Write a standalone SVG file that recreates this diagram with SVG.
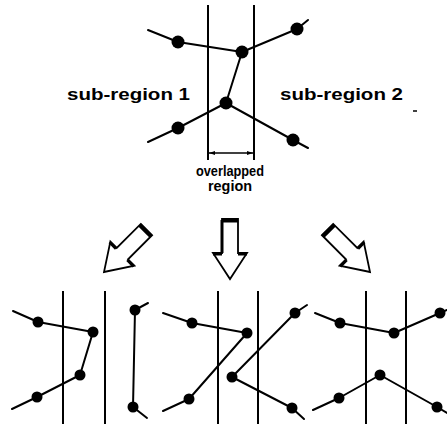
<svg xmlns="http://www.w3.org/2000/svg" width="447" height="426" viewBox="0 0 447 426">
<style>
.ln{stroke:#000;stroke-width:2;fill:none;stroke-linecap:round;stroke-linejoin:round}
.vl{stroke:#000;stroke-width:2;fill:none}
.nd{fill:#000}
.t{font-family:"Liberation Sans",Arial,sans-serif;font-weight:bold;fill:#000}
.ar{fill:#fff;stroke:#000;stroke-width:1.8;stroke-linejoin:miter}
.sh{stroke:#000;fill:none}
</style>
<defs>
<marker id="dim" viewBox="0 0 10 10" refX="10" refY="5" markerWidth="6" markerHeight="6" orient="auto-start-reverse" markerUnits="userSpaceOnUse">
<path d="M0,1.5 L10,5 L0,8.5 Z" fill="#000"/>
</marker>
<g id="bigarrow">
<path class="ar" d="M-8,-60 L8,-60 L8,-26 L17,-26 L0,0 L-17,-26 L-8,-26 Z"/>
<path class="sh" stroke-width="4" d="M-8,-58.5 L8,-58.5"/>
<path class="sh" stroke-width="3" d="M-17,-25 L-8,-25 M8,-25 L17,-25"/>
</g>
</defs>

<g id="top-lines">
<line class="vl" x1="208" y1="5" x2="208" y2="160"/>
<line class="vl" x1="254" y1="5" x2="254" y2="160"/>
</g>

<g id="connectors">
<polyline class="ln" points="148,30 178,42 242,52 297,29 308,20"/>
<polyline class="ln" points="242,52 226,103"/>
<polyline class="ln" points="148,142 178,128 226,103 293,140 308,148"/>
<line x1="209" y1="153" x2="253" y2="153" stroke="#000" stroke-width="1.5" marker-start="url(#dim)" marker-end="url(#dim)"/>
<polyline class="ln" points="13,311 38,322 93,332 80,375 37,397 12,409"/>
<polyline class="ln" points="148,303 135,310 133,407 147,418"/>
<polyline class="ln" points="163,313 192,323 247,333 189,399 163,411"/>
<polyline class="ln" points="307,305 295,313 232,377 292,408 304,419"/>
<polyline class="ln" points="315,313 340,323 394,333 440,313 447,310"/>
<polyline class="ln" points="313,410 339,398 380,375 437,407 447,413"/>
</g>

<g id="top-nodes">
<circle class="nd" cx="178" cy="42" r="6.5"/>
<circle class="nd" cx="242" cy="52" r="6.5"/>
<circle class="nd" cx="297" cy="29" r="6.5"/>
<circle class="nd" cx="226" cy="103" r="6.5"/>
<circle class="nd" cx="178" cy="128" r="6.5"/>
<circle class="nd" cx="293" cy="140" r="6.5"/>
</g>

<g id="labels">
<text class="t" x="67" y="100" font-size="17" textLength="123" lengthAdjust="spacingAndGlyphs">sub-region 1</text>
<text class="t" x="280" y="100" font-size="17" textLength="123" lengthAdjust="spacingAndGlyphs">sub-region 2</text>
<line x1="413" y1="111" x2="417" y2="111" stroke="#000" stroke-width="1.5"/>
<text class="t" x="196" y="176" font-size="14" textLength="68" lengthAdjust="spacingAndGlyphs">overlapped</text>
<text class="t" x="208" y="191" font-size="14" textLength="44" lengthAdjust="spacingAndGlyphs">region</text>
</g>

<g id="arrows">
<use href="#bigarrow" transform="translate(104,272) rotate(45)"/>
<use href="#bigarrow" transform="translate(230,279)"/>
<use href="#bigarrow" transform="translate(370,272) rotate(-45)"/>
<path class="sh" stroke-width="3" d="M222,253 L222,220"/>
</g>

<g id="panel1">
<line class="vl" x1="63" y1="291" x2="63" y2="424"/>
<line class="vl" x1="105" y1="291" x2="105" y2="424"/>
<circle class="nd" cx="38" cy="322" r="5.5"/>
<circle class="nd" cx="93" cy="332" r="5.5"/>
<circle class="nd" cx="80" cy="375" r="5.5"/>
<circle class="nd" cx="37" cy="397" r="5.5"/>
<circle class="nd" cx="135" cy="310" r="5.5"/>
<circle class="nd" cx="133" cy="407" r="5.5"/>
</g>

<g id="panel2">
<line class="vl" x1="218" y1="291" x2="218" y2="424"/>
<line class="vl" x1="258" y1="291" x2="258" y2="424"/>
<circle class="nd" cx="192" cy="323" r="5.5"/>
<circle class="nd" cx="247" cy="333" r="5.5"/>
<circle class="nd" cx="189" cy="399" r="5.5"/>
<circle class="nd" cx="295" cy="313" r="5.5"/>
<circle class="nd" cx="232" cy="377" r="5.5"/>
<circle class="nd" cx="292" cy="408" r="5.5"/>
</g>

<g id="panel3">
<line class="vl" x1="366" y1="291" x2="366" y2="424"/>
<line class="vl" x1="406" y1="291" x2="406" y2="424"/>
<circle class="nd" cx="340" cy="323" r="5.5"/>
<circle class="nd" cx="394" cy="333" r="5.5"/>
<circle class="nd" cx="440" cy="313" r="5.5"/>
<circle class="nd" cx="339" cy="398" r="5.5"/>
<circle class="nd" cx="380" cy="375" r="5.5"/>
<circle class="nd" cx="437" cy="407" r="5.5"/>
</g>
</svg>
